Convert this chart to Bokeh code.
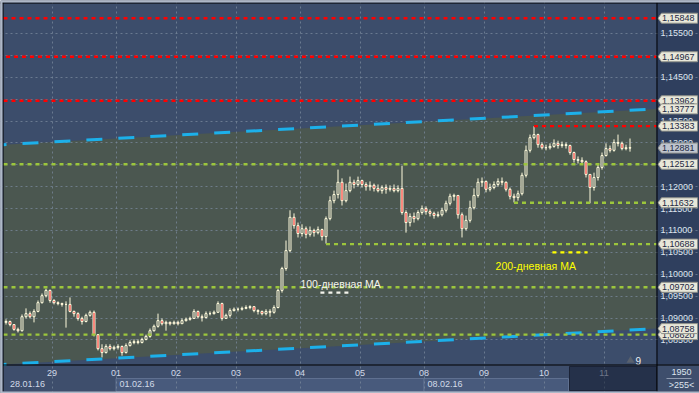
import numpy as np
from bokeh.plotting import figure
from bokeh.models import Range1d, FixedTicker, Grid, ColumnDataSource
from bokeh.core.properties import value
from bokeh.embed import file_html
from bokeh.resources import INLINE

# ------------------------------------------------------------------ data
DAY_LABELS = ["29", "01", "02", "03", "04", "05", "08", "09", "10", "11"]
BARS_PER_DAY = [12, 16, 15, 15, 16, 15, 16, 15, 15, 15, 7]
DATE_LABELS = ["28.01.16", "01.02.16", "08.02.16"]
DATE_DAY = [0, 2, 7]
Y_TICKS = [1.085, 1.090, 1.095, 1.100, 1.105, 1.110, 1.115, 1.120,
           1.125, 1.130, 1.135, 1.140, 1.145, 1.150, 1.155]

FIRST_OPEN = 1.0890
CLOSE = [1.0892, 1.0885, 1.0874, 1.0871, 1.0903, 1.0910, 1.0903, 1.0915, 1.0935, 1.0951, 1.0963, 1.0940,
         1.0935, 1.0933, 1.0931, 1.0931, 1.0915, 1.0910, 1.0899, 1.0892, 1.0906, 1.0913, 1.0862, 1.0830, 1.0821, 1.0835, 1.0830, 1.0833,
         1.0835, 1.0821, 1.0837, 1.0844, 1.0846, 1.0844, 1.0851, 1.0858, 1.0871, 1.0881, 1.0894, 1.0887, 1.0890, 1.0887, 1.0890,
         1.0887, 1.0894, 1.0897, 1.0899, 1.0915, 1.0903, 1.0901, 1.0910, 1.0910, 1.0913, 1.0933, 1.0899, 1.0906, 1.0917, 1.0920,
         1.0920, 1.0922, 1.0924, 1.0926, 1.0917, 1.0915, 1.0910, 1.0915, 1.0913, 1.0924, 1.0963, 1.1013, 1.1054, 1.1130, 1.1111, 1.1093,
         1.1104, 1.1091, 1.1100, 1.1095, 1.1102, 1.1086, 1.1127, 1.1168, 1.1182, 1.1210, 1.1168, 1.1191, 1.1210, 1.1205, 1.1214,
         1.1205, 1.1200, 1.1203, 1.1196, 1.1191, 1.1198, 1.1194, 1.1196, 1.1191, 1.1196, 1.1141, 1.1118, 1.1132, 1.1127, 1.1141, 1.1150,
         1.1143, 1.1139, 1.1134, 1.1136, 1.1146, 1.1162, 1.1178, 1.1180, 1.1136, 1.1104, 1.1123, 1.1152, 1.1180, 1.1210, 1.1212,
         1.1194, 1.1198, 1.1205, 1.1212, 1.1210, 1.1194, 1.1178, 1.1175, 1.1184, 1.1226, 1.1283, 1.1312, 1.1319, 1.1296, 1.1289,
         1.1289, 1.1292, 1.1299, 1.1294, 1.1296, 1.1294, 1.1278, 1.1262, 1.1260, 1.1257, 1.1228, 1.1198, 1.1221, 1.1244, 1.1271,
         1.1287, 1.1283, 1.1301, 1.1299, 1.1287, 1.1289, 1.12881]
HIGH = [1.0897, 1.0894, 1.0885, 1.0878, 1.0908, 1.0922, 1.0915, 1.0920, 1.0940, 1.0956, 1.0967, 1.0965,
        1.0943, 1.0938, 1.0935, 1.0938, 1.0947, 1.0917, 1.0913, 1.0903, 1.0910, 1.0917, 1.0917, 1.0862, 1.0840, 1.0840, 1.0840, 1.0837,
        1.0840, 1.0837, 1.0842, 1.0849, 1.0851, 1.0851, 1.0855, 1.0862, 1.0876, 1.0885, 1.0910, 1.0899, 1.0894, 1.0892, 1.0894,
        1.0894, 1.0899, 1.0901, 1.0903, 1.0920, 1.0917, 1.0908, 1.0915, 1.0915, 1.0917, 1.0938, 1.0935, 1.0910, 1.0922, 1.0924,
        1.0924, 1.0926, 1.0929, 1.0929, 1.0926, 1.0920, 1.0917, 1.0920, 1.0920, 1.0929, 1.0967, 1.1017, 1.1077, 1.1146, 1.1139, 1.1118,
        1.1114, 1.1109, 1.1109, 1.1104, 1.1109, 1.1104, 1.1132, 1.1178, 1.1191, 1.1239, 1.1219, 1.1207, 1.1223, 1.1216, 1.1223,
        1.1216, 1.1210, 1.1212, 1.1207, 1.1205, 1.1203, 1.1205, 1.1203, 1.1205, 1.1203, 1.1248, 1.1146, 1.1139, 1.1141, 1.1146, 1.1157,
        1.1155, 1.1148, 1.1143, 1.1143, 1.1152, 1.1168, 1.1184, 1.1184, 1.1180, 1.1141, 1.1134, 1.1168, 1.1196, 1.1219, 1.1221,
        1.1214, 1.1207, 1.1212, 1.1219, 1.1221, 1.1212, 1.1198, 1.1184, 1.1191, 1.1232, 1.1294, 1.1319, 1.1338, 1.1321, 1.1301,
        1.1296, 1.1299, 1.1308, 1.1305, 1.1303, 1.1301, 1.1296, 1.1280, 1.1269, 1.1267, 1.1260, 1.1228, 1.1232, 1.1251, 1.1278,
        1.1299, 1.1294, 1.1308, 1.1319, 1.1303, 1.1296, 1.1310]
LOW = [1.0885, 1.0881, 1.0871, 1.0867, 1.0869, 1.0899, 1.0899, 1.0890, 1.0913, 1.0933, 1.0947, 1.0935,
       1.0931, 1.0929, 1.0926, 1.0878, 1.0913, 1.0903, 1.0894, 1.0885, 1.0890, 1.0903, 1.0858, 1.0826, 1.0810, 1.0819, 1.0826, 1.0826,
       1.0828, 1.0814, 1.0819, 1.0835, 1.0840, 1.0840, 1.0842, 1.0849, 1.0855, 1.0869, 1.0878, 1.0883, 1.0871, 1.0883, 1.0885,
       1.0883, 1.0887, 1.0892, 1.0894, 1.0899, 1.0899, 1.0892, 1.0899, 1.0906, 1.0908, 1.0913, 1.0894, 1.0899, 1.0901, 1.0915,
       1.0915, 1.0917, 1.0920, 1.0920, 1.0913, 1.0908, 1.0906, 1.0906, 1.0903, 1.0910, 1.0922, 1.0958, 1.1008, 1.1050, 1.1104, 1.1084,
       1.1086, 1.1082, 1.1086, 1.1086, 1.1091, 1.1077, 1.1070, 1.1123, 1.1162, 1.1173, 1.1157, 1.1164, 1.1187, 1.1196, 1.1200,
       1.1198, 1.1191, 1.1191, 1.1189, 1.1187, 1.1184, 1.1184, 1.1189, 1.1187, 1.1187, 1.1136, 1.1095, 1.1109, 1.1118, 1.1123, 1.1136,
       1.1136, 1.1132, 1.1127, 1.1130, 1.1132, 1.1141, 1.1157, 1.1168, 1.1127, 1.1084, 1.1100, 1.1118, 1.1148, 1.1175, 1.1200,
       1.1187, 1.1189, 1.1194, 1.1200, 1.1203, 1.1189, 1.1171, 1.1164, 1.1168, 1.1180, 1.1221, 1.1278, 1.1308, 1.1289, 1.1285,
       1.1283, 1.1285, 1.1289, 1.1287, 1.1289, 1.1287, 1.1273, 1.1255, 1.1253, 1.1251, 1.1221, 1.1162, 1.1191, 1.1214, 1.1239,
       1.1269, 1.1278, 1.1280, 1.1292, 1.1283, 1.1283, 1.1280]

RED_LEVELS = [1.15848, 1.14967, 1.13962, 1.13383]
RED_FROM = [None, 0, None, 132]
GREEN_LEVELS = [1.12512, 1.11632, 1.10688, 1.09702, 1.08620]
GREEN_FROM = [None, 127, 80, None, None]
CHANNEL_LOWER = [1.07940, 1.08758]
CHANNEL_UPPER = [1.12960, 1.13777]
PRICE_TAGS = [1.15848, 1.14967, 1.13962, 1.13777, 1.13383, 1.12881, 1.12512,
              1.11632, 1.10688, 1.09702, 1.08620, 1.08758]
LAST_PRICE = 1.12881
MA_NAMES = ["100-дневная MA", "200-дневная MA"]
MA_LEVEL = [1.0958, 1.1050]
MA_FROM = [78.6, 136.6]
MA_TO = [85.6, 145.4]
MA_TEXT_X = [73.6, 122.4]
MA_TEXT_Y = [1.0977, 1.1019]
MA_COLORS = ["#f4f4ec", "#ffff00"]
CORNER_TOP, CORNER_BOTTOM = "1950", ">255<"
BADGE = "9"

# ------------------------------------------------------------------ layout
W, H = 699, 393
FL, FT, FR, FB = 3, 3, 656, 364      # price area edges, px
BAR_PX = 4
X_START = -0.625                     # data x at the left edge of the price area
X_END = X_START + (FR - FL) / BAR_PX
Y_BOTTOM, Y_TOP = 1.07938, 1.16184   # prices at the bottom / top of the price area
FONT = "Liberation Sans"
PX_Y = (Y_TOP - Y_BOTTOM) / (FB - FT)
CANDLE = "#fffbdc"


def X(px):
    return X_START + (px - FL) / BAR_PX


def Y(py):
    return Y_TOP - (py - FT) * PX_Y


def PX(x):
    return FL + (x - X_START) * BAR_PX


def fmt(v):
    return f"{v:.5f}".replace(".", ",")


n = len(CLOSE)
idx = np.arange(n)
opens = np.array([FIRST_OPEN] + CLOSE[:-1])
closes = np.array(CLOSE)
cum = np.cumsum(BARS_PER_DAY)
day_ticks = [float(c - 0.5) for c in cum[:-1]]
date_pos = []
for d in DATE_DAY:
    left = X_START + 6 / BAR_PX if d == 0 else (cum[d - 1] - 0.5) + 3 / BAR_PX
    date_pos.append(float(left + 18 / BAR_PX))

p = figure(width=W, height=H, x_range=Range1d(X(0), X(W)), y_range=Range1d(Y(H), Y(0)),
           output_backend="svg", toolbar_location=None,
           x_axis_location=None, y_axis_location=None, min_border=0,
           background_fill_color="#3e4e6c", border_fill_color="#3e4e6c",
           outline_line_color=None)
p.grid.visible = False


def rect(l, r, t, b, color, alpha=1.0, line=None, level="image"):
    p.quad(left=[X(l)], right=[X(r)], top=[Y(t)], bottom=[Y(b)], fill_color=color,
           fill_alpha=alpha, line_color=line, level=level)


# backgrounds
rect(FL, FR, FT, FB, "#3c4d6b")
p.patch(x=[X_START, X_END, X_END, X_START],
        y=[CHANNEL_LOWER[0], CHANNEL_LOWER[1], CHANNEL_UPPER[1], CHANNEL_UPPER[0]],
        fill_color="#4b5750", line_color=None, level="image")
rect(FR, W, FT, FB, "#2f3f5e")
# date row boxes
rect(PX(day_ticks[1]), PX(day_ticks[6]), 378, 391, "#485a7c", 1.0, "#5f7090")
rect(PX(day_ticks[6]), 568, 378, 391, "#485a7c", 1.0, "#5f7090")

# grid
grid_kw = dict(grid_line_color="#7a889c", grid_line_alpha=0.75, grid_line_dash="2 3", grid_line_width=1)
p.add_layout(Grid(dimension=0, ticker=FixedTicker(ticks=day_ticks), bounds=(Y_BOTTOM, Y_TOP), **grid_kw))
p.add_layout(Grid(dimension=1, ticker=FixedTicker(ticks=Y_TICKS), bounds=(X_START, X_END), **grid_kw))

# candles
up = closes >= opens
src = ColumnDataSource(dict(x=idx, high=HIGH, low=LOW,
                            top=np.maximum(opens, closes), bottom=np.minimum(opens, closes),
                            fill=np.where(up, "#4b5750", "#f41a22")))
p.segment(x0="x", y0="low", x1="x", y1="high", source=src, line_color=CANDLE, line_width=1)
p.vbar(x="x", width=2 / BAR_PX, top="top", bottom="bottom", source=src,
       fill_color="fill", line_color=CANDLE, line_width=1)

# channel lines
p.segment(x0=[X_START, X_START], y0=[CHANNEL_LOWER[0], CHANNEL_UPPER[0]],
          x1=[X_END, X_END], y1=[CHANNEL_LOWER[1], CHANNEL_UPPER[1]],
          line_color="#1cb0ea", line_width=3, line_dash="16 16", line_dash_offset=13)


def level_segments(levels, starts, color):
    x0 = [X_START if s is None else float(s) for s in starts]
    p.segment(x0=x0, y0=levels, x1=[X_END] * len(levels), y1=levels,
              line_color=color, line_width=2.4, line_dash="4 4")


level_segments(RED_LEVELS, RED_FROM, "#ff0000")
level_segments(GREEN_LEVELS, GREEN_FROM, "#9cc63c")

# moving-average markers and captions
for lvl, a, b, c in zip(MA_LEVEL, MA_FROM, MA_TO, MA_COLORS):
    p.segment(x0=[a], y0=[lvl], x1=[b], y1=[lvl], line_color=c, line_width=2.4, line_dash="4 4")
ma_src = ColumnDataSource(dict(x=MA_TEXT_X, y=MA_TEXT_Y, t=MA_NAMES, c=MA_COLORS))
p.text(x="x", y="y", text="t", text_color="c", source=ma_src, text_font=value(FONT),
       text_font_size="10.5px", text_baseline="middle", text_align="left")

# badge
p.scatter(x=[X(630)], y=[Y(360)], marker="triangle", size=8, fill_color="#59616e", line_color=None)
p.text(x=[X(635)], y=[Y(360)], text=[BADGE], text_font=value(FONT), text_font_size="10px",
       text_color="#eef2f6", text_baseline="middle", text_align="left")

# time scale
p.text(x=day_ticks, y=[Y(372.5)] * len(day_ticks), text=DAY_LABELS, text_font=value(FONT),
       text_font_size="9px", text_color="#d2dae8", text_baseline="middle", text_align="center")
p.text(x=date_pos, y=[Y(383.5)] * len(date_pos), text=DATE_LABELS, text_font=value(FONT),
       text_font_size="9px", text_color="#d2dae8", text_baseline="middle", text_align="center")
rect(569, FR, 366, 390, "#0b1328", 0.5, "#1a2236", level="glyph")

# price scale
p.text(x=[X(660)] * len(Y_TICKS), y=Y_TICKS, text=[fmt(v) for v in Y_TICKS], text_font=value(FONT),
       text_font_size="9px", text_color="#dde4ee", text_baseline="middle", text_align="left")
hh = 5 * PX_Y
for v in PRICE_TAGS:
    fill = "#bfc5cf" if v == LAST_PRICE else "#e8e7d9"
    p.patch(x=[X(657.5), X(661), X(697), X(697), X(661)], y=[v, v + hh, v + hh, v - hh, v - hh],
            fill_color=fill, line_color="#8f918a", line_width=1)
    p.text(x=[X(661.5)], y=[v], text=[fmt(v)], text_font=value(FONT), text_font_size="9px",
           text_color="#1d2944", text_baseline="middle", text_align="left")

# corner box
p.text(x=[X(681), X(681)], y=[Y(371.5), Y(384.5)], text=[CORNER_TOP, CORNER_BOTTOM],
       text_font=value(FONT), text_font_size="9px", text_color="#dde4ee",
       text_baseline="middle", text_align="center")
p.segment(x0=[X(666)], y0=[Y(378)], x1=[X(691)], y1=[Y(378)], line_color="#8e9ab0", line_width=1)

# frame lines
p.segment(x0=[X(2.5), X(0), X(656.5), X(2.5)], y0=[Y(2), Y(2.5), Y(2), Y(364.5)],
          x1=[X(2.5), X(W), X(656.5), X(W)], y1=[Y(391), Y(2.5), Y(391), Y(364.5)],
          line_color="black", line_width=1)
rect(0, W, 0, 2, "#aeb8c8", level="glyph")
rect(0, 2, 0, H, "#aeb8c8", level="glyph")
rect(0, W, 391, H, "#aeb8c8", level="glyph")

with open("out.html", "w", encoding="utf-8") as f:
    f.write(file_html(p, INLINE))
